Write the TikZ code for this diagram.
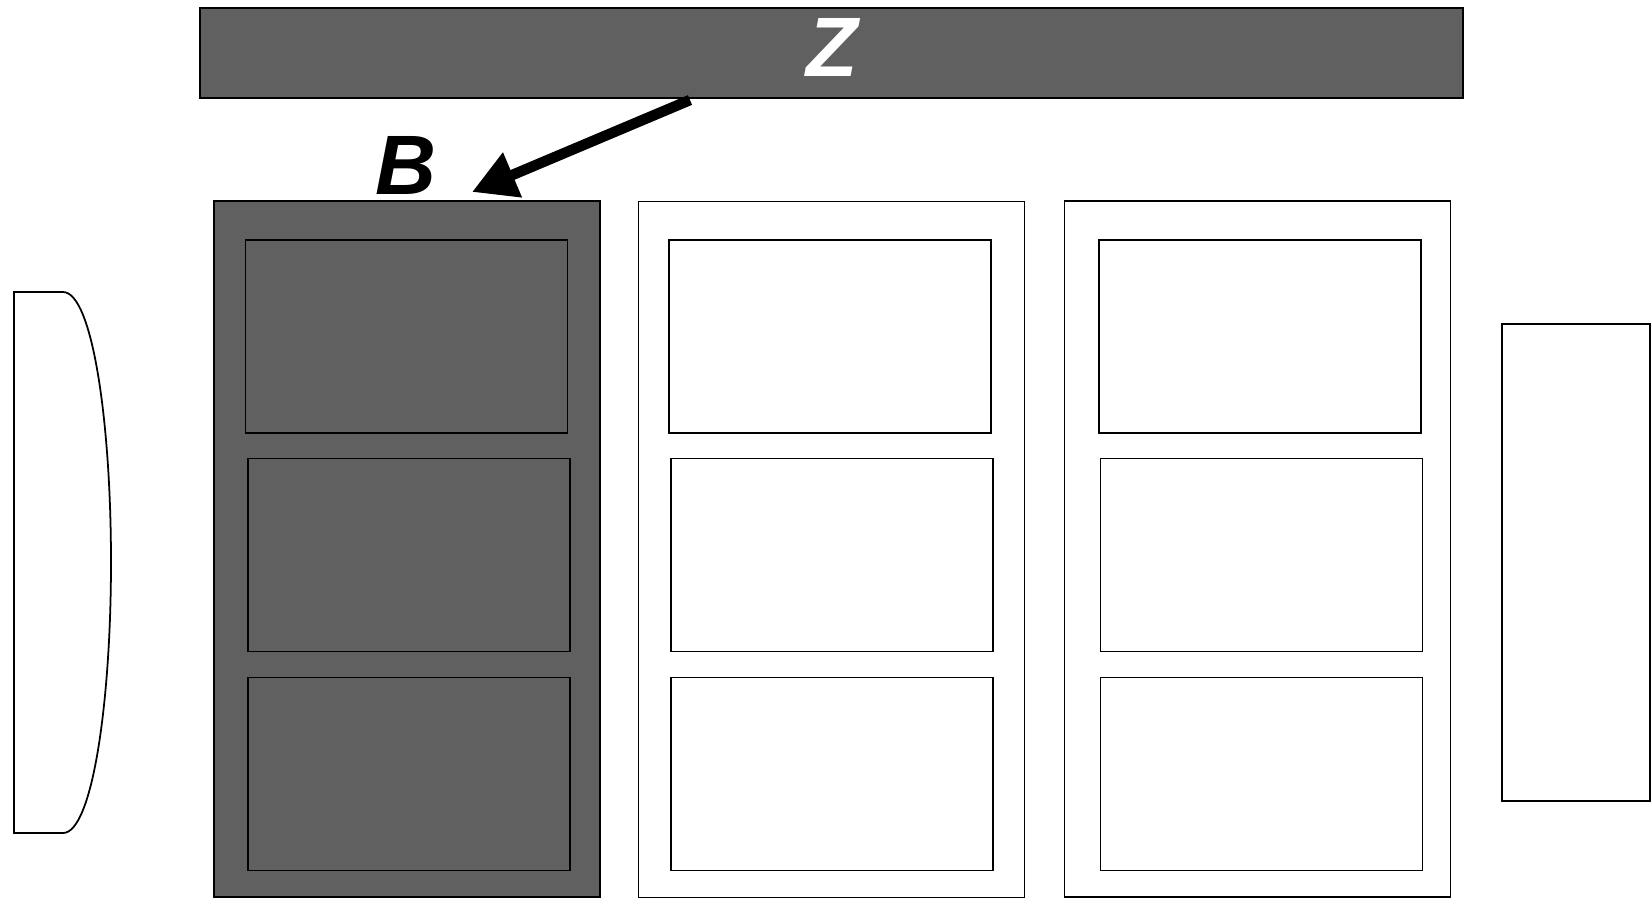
\documentclass[tikz,border=0pt]{standalone}
\usepackage{fontspec}
\setsansfont{Liberation Sans}
\usepackage{xcolor}
\usepackage{tikz}
\usetikzlibrary{arrows.meta, positioning}
\definecolor{slabgray}{RGB}{96, 96, 96}

\begin{document}
\begin{tikzpicture}[x=0.1mm, y=-0.1mm, line width=0.5pt,
  slab/.style={draw=black, fill=slabgray, minimum width=126.3mm, minimum height=9mm, inner sep=0pt},
  col/.style={draw=black, minimum width=38.6mm, minimum height=69.6mm, inner sep=0pt},
  cell/.style={draw=black, minimum width=32.2mm, minimum height=19.3mm, inner sep=0pt},
  tag/.style={font=\sffamily\bfseries\itshape\fontsize{24}{24}\selectfont, inner sep=0pt}]
  \useasboundingbox (0,0) rectangle (1652,905);

  % top slab
  \node[slab] (zbar) at (831.5,53) {};
  \node[tag, text=white] (zlab) at (832,47) {Z};

  % three columns, first one shaded
  \node[col, fill=slabgray] (c1) at (407,549) {};
  \node[col] (c2) at (831.5,549.5) {};
  \node[col] (c3) at (1257.5,549) {};

  % cells in the columns
  \node[cell] (c1a) at (406.5,336.5) {};
  \node[cell] (c1b) at (409,555) {};
  \node[cell] (c1c) at (409,774) {};
  \node[cell] (c2a) at (830,336.5) {};
  \node[cell] (c2b) at (832,555) {};
  \node[cell] (c2c) at (832,774) {};
  \node[cell] (c3a) at (1260,336.5) {};
  \node[cell] (c3b) at (1261.5,555) {};
  \node[cell] (c3c) at (1261.5,774) {};

  % lens on the left, plate on the right
  \draw (14,292) -- (63,292) .. controls (92,292) and (111,420) .. (111,562)
        .. controls (111,704) and (92,833) .. (63,833) -- (14,833) -- cycle;
  \node[draw=black, minimum width=14.8mm, minimum height=47.7mm, inner sep=0pt] (plate) at (1576,562.5) {};

  % label and pointer
  \node[tag] (blab) at (406,165) {B};
  \coordinate (zfoot) at (690,100);
  \coordinate (btip) at (472,192);
  \draw[-{Triangle[length=4.4mm, width=4.6mm]}, line width=3pt] (zfoot) -- (btip);
\end{tikzpicture}
\end{document}
